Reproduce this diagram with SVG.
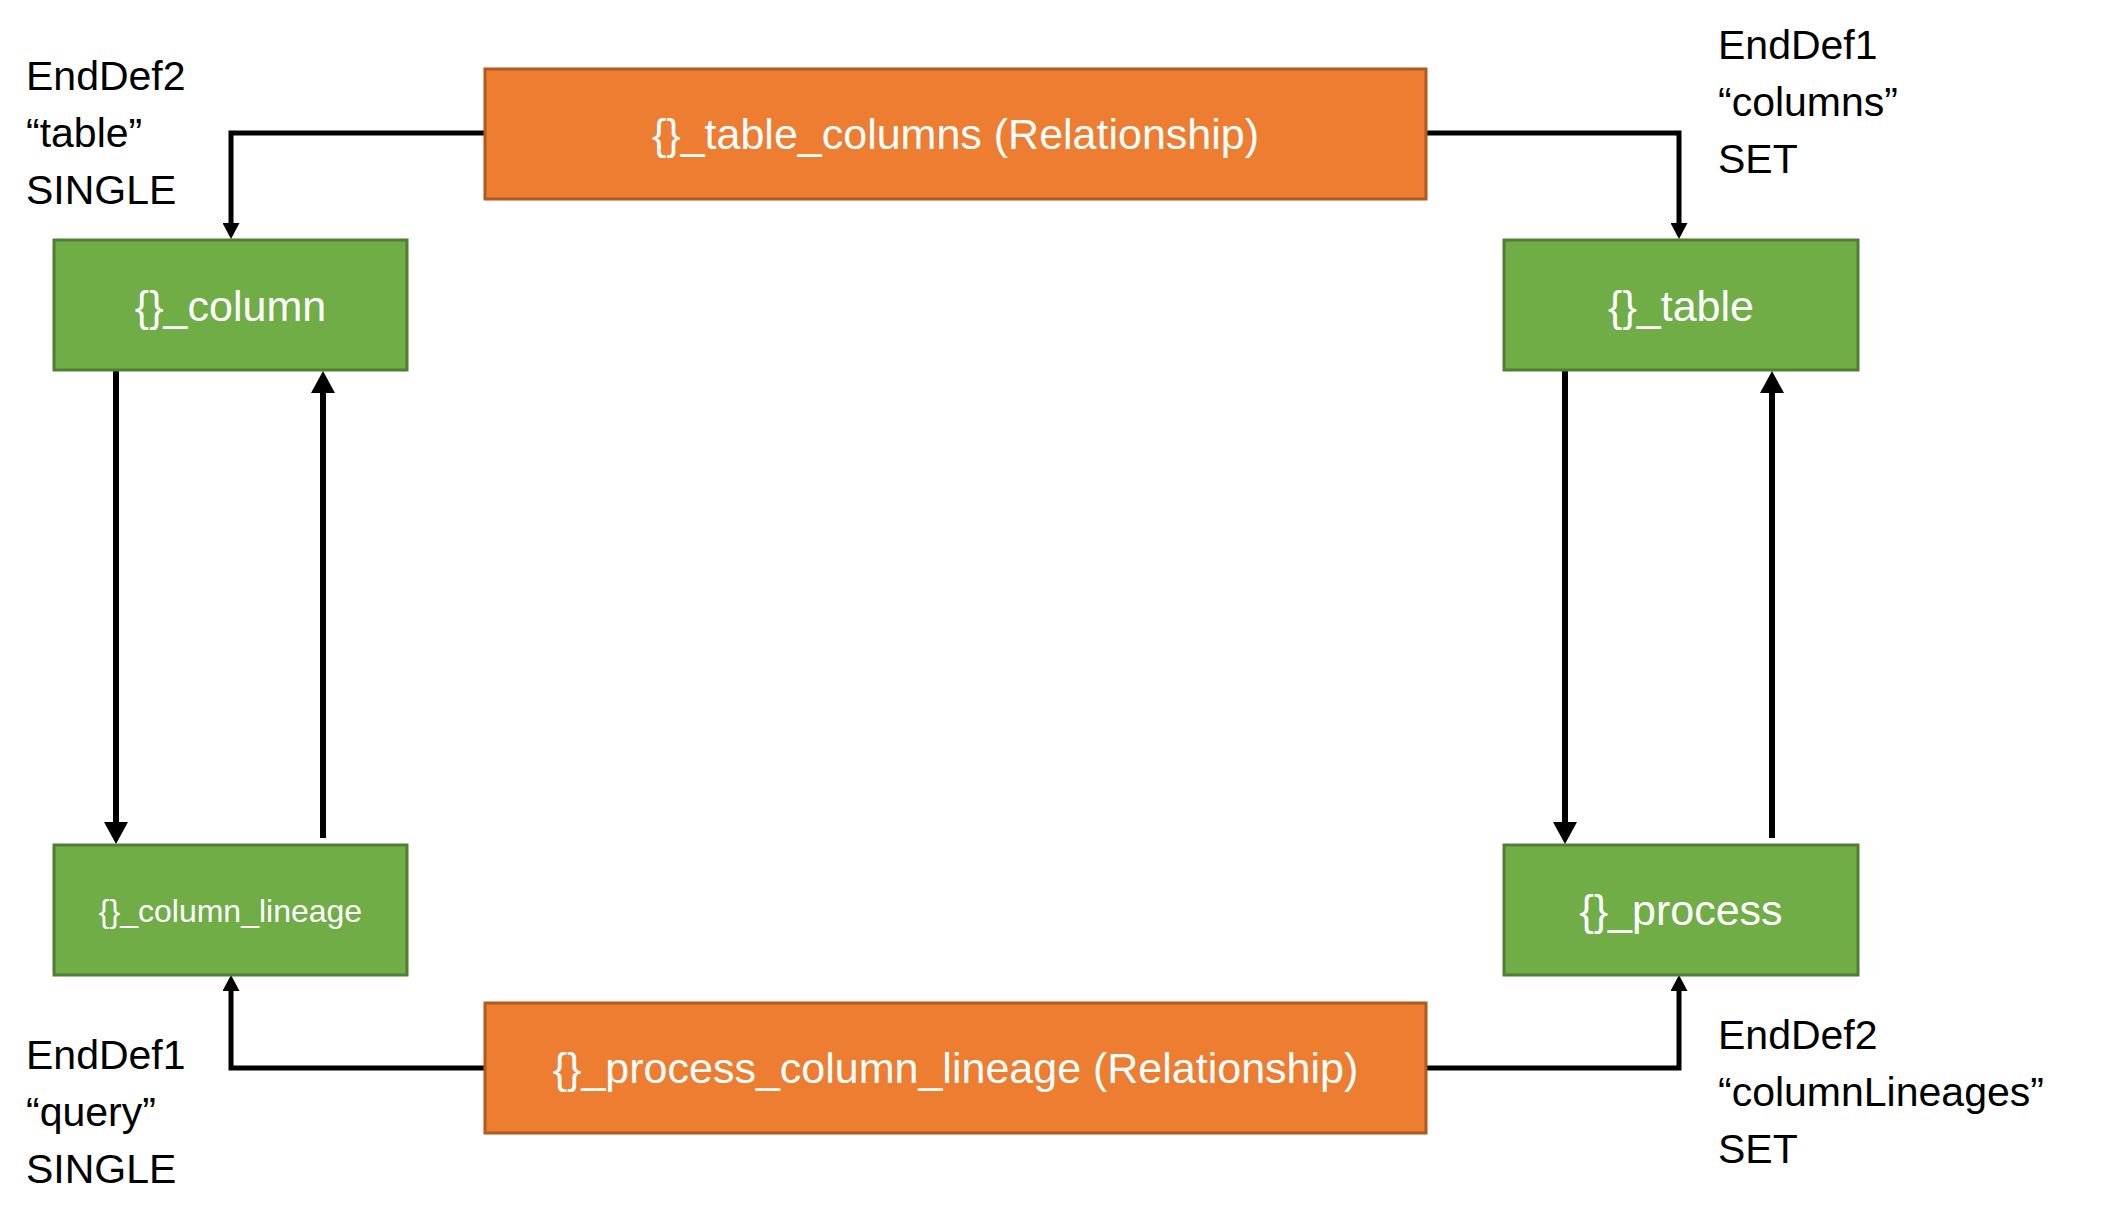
<svg xmlns="http://www.w3.org/2000/svg" width="2108" height="1230" viewBox="0 0 2108 1230">
<style>
.rel{fill:#ED7D31;stroke:#AE5A21;stroke-width:3}
.ent{fill:#70AD47;stroke:#507E32;stroke-width:3}
.nt{font-family:"Liberation Sans",Arial,sans-serif;font-size:43px;fill:#FFFFFF;text-anchor:middle}
.small{font-size:32px}
.lbl{font-family:"Liberation Sans",Arial,sans-serif;font-size:41px;fill:#000000}
.c{fill:none;stroke:#000000;stroke-width:5;stroke-linejoin:miter}
.v{fill:none;stroke:#000000;stroke-width:6}
</style>
<defs>
<marker id="ah" markerUnits="userSpaceOnUse" markerWidth="17" markerHeight="17" refX="6" refY="8.5" orient="auto">
<path d="M0,0 L16,8.5 L0,17 Z" fill="#000000"/>
</marker>
<marker id="ahl" markerUnits="userSpaceOnUse" markerWidth="23" markerHeight="24" refX="8" refY="12" orient="auto">
<path d="M0,0 L22,12 L0,24 Z" fill="#000000"/>
</marker>
</defs>
<rect width="2108" height="1230" fill="#FFFFFF"/>
<g id="connectors">
<path class="c" d="M485,133 H231 V229" marker-end="url(#ah)"/>
<path class="c" d="M1426,133 H1679 V229" marker-end="url(#ah)"/>
<path class="c" d="M485,1068 H231 V985" marker-end="url(#ah)"/>
<path class="c" d="M1426,1068 H1679 V985" marker-end="url(#ah)"/>
<path class="v" d="M116,370 V830" marker-end="url(#ahl)"/>
<path class="v" d="M323,838 V385" marker-end="url(#ahl)"/>
<path class="v" d="M1565,370 V830" marker-end="url(#ahl)"/>
<path class="v" d="M1772,838 V385" marker-end="url(#ahl)"/>
</g>
<g id="table_columns">
<rect class="rel" x="485" y="69" width="941" height="130"/>
<text class="nt" x="955.5" y="149">{}_table_columns (Relationship)</text>
</g>
<g id="process_column_lineage">
<rect class="rel" x="485" y="1003" width="941" height="130"/>
<text class="nt" x="955.5" y="1083">{}_process_column_lineage (Relationship)</text>
</g>
<g id="column">
<rect class="ent" x="54" y="240" width="353" height="130"/>
<text class="nt" x="230.5" y="321">{}_column</text>
</g>
<g id="table">
<rect class="ent" x="1504" y="240" width="354" height="130"/>
<text class="nt" x="1681" y="321">{}_table</text>
</g>
<g id="column_lineage">
<rect class="ent" x="54" y="845" width="353" height="130"/>
<text class="nt small" x="230.5" y="922">{}_column_lineage</text>
</g>
<g id="process">
<rect class="ent" x="1504" y="845" width="354" height="130"/>
<text class="nt" x="1681" y="925">{}_process</text>
</g>
<g id="labels">
<text class="lbl" x="26" y="90">EndDef2</text>
<text class="lbl" x="26" y="147">“table”</text>
<text class="lbl" x="26" y="204">SINGLE</text>
<text class="lbl" x="1718" y="59">EndDef1</text>
<text class="lbl" x="1718" y="116">“columns”</text>
<text class="lbl" x="1718" y="173">SET</text>
<text class="lbl" x="26" y="1069">EndDef1</text>
<text class="lbl" x="26" y="1126">“query”</text>
<text class="lbl" x="26" y="1183">SINGLE</text>
<text class="lbl" x="1718" y="1049">EndDef2</text>
<text class="lbl" x="1718" y="1106">“columnLineages”</text>
<text class="lbl" x="1718" y="1163">SET</text>
</g>
</svg>
